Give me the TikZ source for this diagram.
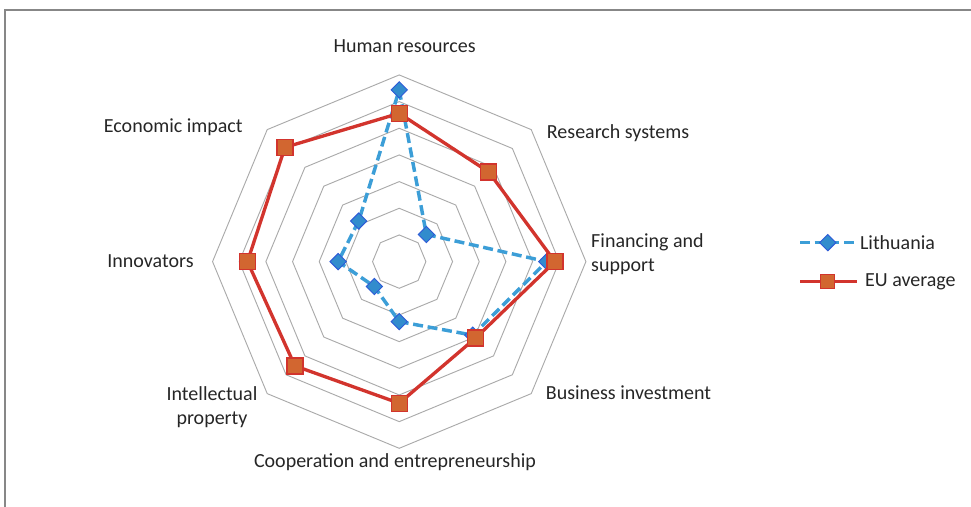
\documentclass[tikz,border=0pt]{standalone}
\usepackage{fontspec}
\setmainfont{Carlito}
\usetikzlibrary{shapes.geometric}
\definecolor{gridgray}{RGB}{170,170,170}
\definecolor{framegray}{RGB}{135,135,135}
\definecolor{ltblue}{RGB}{60,158,215}
\definecolor{ltdia}{RGB}{50,140,205}
\definecolor{ltedge}{RGB}{45,90,215}
\definecolor{eured}{RGB}{210,52,45}
\definecolor{eufill}{RGB}{210,102,48}
\tikzset{
  ring/.style={draw=gridgray,line width=0.7pt},
  axislabel/.style={font=\fontsize{15}{18}\selectfont,text=black!85,inner sep=0pt,align=center},
  ltline/.style={ltblue,line width=2.6pt,dash pattern=on 7.5pt off 3.5pt},
  euline/.style={eured,line width=2.5pt},
  ltmark/.style={diamond,draw=ltedge,fill=ltdia,line width=0.7pt,minimum size=12.5pt,inner sep=0pt},
  eumark/.style={rectangle,draw=eured,fill=eufill,line width=1pt,minimum size=12pt,inner sep=0pt}
}
\begin{document}
\begin{tikzpicture}[x=20pt,y=20pt]
\useasboundingbox (-14.97,-9.20) rectangle (21.44,9.81);
\draw[framegray,line width=1.1pt] (-14.78,-9.3) -- (-14.78,9.44) -- (21.6,9.44);

% grid
\foreach \r in {1,...,7}
  \draw[ring] (90:\r) -- (45:\r) -- (0:\r) -- (-45:\r) -- (-90:\r) -- (-135:\r) -- (180:\r) -- (135:\r) -- cycle;

% axis labels
\path (0.2,8.09) node[axislabel] (hr) {Human resources};
\path (5.53,4.83) node[axislabel,anchor=west] (rs) {Research systems};
\path (7.19,0.29) node[axislabel,anchor=west,align=left] (fs) {Financing and\\support};
\path (5.49,-4.92) node[axislabel,anchor=west] (bi) {Business investment};
\path (-0.16,-7.51) node[axislabel] (ce) {Cooperation and entrepreneurship};
\path (-7.02,-5.47) node[axislabel] (ip) {Intellectual\\property};
\path (-7.70,0.03) node[axislabel,anchor=east] (in) {Innovators};
\path (-5.86,5.05) node[axislabel,anchor=east] (ei) {Economic impact};

% Lithuania
\path (90:6.44) coordinate (lt1);
\path (45:1.44) coordinate (lt2);
\path (0:5.53) coordinate (lt3);
\path (-45:3.9) coordinate (lt4);
\path (-90:2.25) coordinate (lt5);
\path (-135:1.32) coordinate (lt6);
\path (180:2.29) coordinate (lt7);
\path (135:2.15) coordinate (lt8);
\draw[ltline] (lt1) -- (lt2) -- (lt3) -- (lt4) -- (lt5) -- (lt6) -- (lt7) -- (lt8) -- cycle;
\path (lt1) node[ltmark] (ltm1) {};
\path (lt2) node[ltmark] (ltm2) {};
\path (lt3) node[ltmark] (ltm3) {};
\path (lt4) node[ltmark] (ltm4) {};
\path (lt5) node[ltmark] (ltm5) {};
\path (lt6) node[ltmark] (ltm6) {};
\path (lt7) node[ltmark] (ltm7) {};
\path (lt8) node[ltmark] (ltm8) {};

% EU average
\path (90:5.56) coordinate (eu1);
\path (45:4.75) coordinate (eu2);
\path (0:5.84) coordinate (eu3);
\path (-45:4.05) coordinate (eu4);
\path (-90:5.31) coordinate (eu5);
\path (-135:5.53) coordinate (eu6);
\path (180:5.69) coordinate (eu7);
\path (135:6.06) coordinate (eu8);
\draw[euline] (eu1) -- (eu2) -- (eu3) -- (eu4) -- (eu5) -- (eu6) -- (eu7) -- (eu8) -- cycle;
\path (eu1) node[eumark] (eum1) {};
\path (eu2) node[eumark] (eum2) {};
\path (eu3) node[eumark] (eum3) {};
\path (eu4) node[eumark] (eum4) {};
\path (eu5) node[eumark] (eum5) {};
\path (eu6) node[eumark] (eum6) {};
\path (eu7) node[eumark] (eum7) {};
\path (eu8) node[eumark] (eum8) {};

% legend
\path (15.03,0.71) coordinate (ltA);
\path (17.17,0.71) coordinate (ltB);
\draw[ltline] (ltA) -- (ltB);
\path (16.07,0.71) node[ltmark] (ltkey) {};
\path (17.27,0.71) node[axislabel,anchor=west] (ltname) {Lithuania};
\path (15.03,-0.75) coordinate (euA);
\path (17.17,-0.75) coordinate (euB);
\draw[euline] (euA) -- (euB);
\path (16.07,-0.75) node[eumark,minimum size=10.5pt] (eukey) {};
\path (17.46,-0.75) node[axislabel,anchor=west] (euname) {EU average};
\end{tikzpicture}
\end{document}
